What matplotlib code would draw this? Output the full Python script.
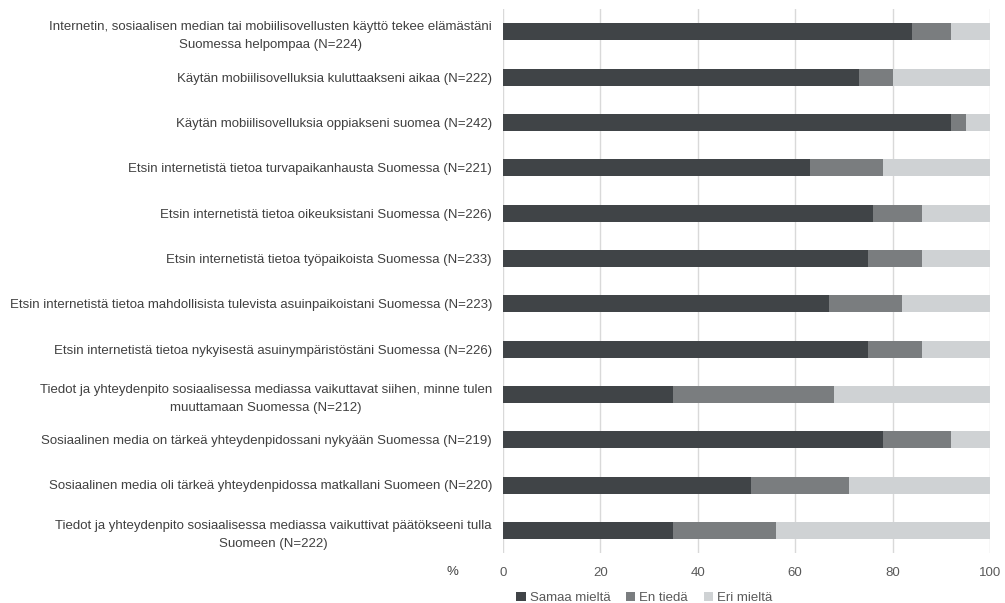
import numpy as np
import matplotlib as mpl
mpl.use('Agg')
import matplotlib.pyplot as plt

mpl.rcParams['font.family'] = ['Liberation Sans', 'DejaVu Sans']
mpl.rcParams['font.size'] = 9.5

statements = [
    'Internetin, sosiaalisen median tai mobiilisovellusten käyttö tekee elämästäni\nSuomessa helpompaa (N=224)',
    'Käytän mobiilisovelluksia kuluttaakseni aikaa (N=222)',
    'Käytän mobiilisovelluksia oppiakseni suomea (N=242)',
    'Etsin internetistä tietoa turvapaikanhausta Suomessa (N=221)',
    'Etsin internetistä tietoa oikeuksistani Suomessa (N=226)',
    'Etsin internetistä tietoa työpaikoista Suomessa (N=233)',
    'Etsin internetistä tietoa mahdollisista tulevista asuinpaikoistani Suomessa (N=223)',
    'Etsin internetistä tietoa nykyisestä asuinympäristöstäni Suomessa (N=226)',
    'Tiedot ja yhteydenpito sosiaalisessa mediassa vaikuttavat siihen, minne tulen\nmuuttamaan Suomessa (N=212)',
    'Sosiaalinen media on tärkeä yhteydenpidossani nykyään Suomessa (N=219)',
    'Sosiaalinen media oli tärkeä yhteydenpidossa matkallani Suomeen (N=220)',
    'Tiedot ja yhteydenpito sosiaalisessa mediassa vaikuttivat päätökseeni tulla\nSuomeen (N=222)',
]
samaa = [84, 73, 92, 63, 76, 75, 67, 75, 35, 78, 51, 35]
en_tieda = [8, 7, 3, 15, 10, 11, 15, 11, 33, 14, 20, 21]
eri = [8, 20, 5, 22, 14, 14, 18, 14, 32, 8, 29, 44]

series = [
    ('Samaa mieltä', samaa, '#404447'),
    ('En tiedä', en_tieda, '#7a7d7f'),
    ('Eri mieltä', eri, '#cfd2d4'),
]

fig = plt.figure(figsize=(10.05, 6.03), dpi=100)
ax = fig.add_axes([503 / 1005, 1 - 553 / 603, 487 / 1005, 544 / 603])

y = np.arange(len(statements))
left = np.zeros(len(statements))
for name, vals, col in series:
    vals = np.array(vals, dtype=float)
    ax.barh(y, vals, left=left, height=0.375, color=col, label=name, zorder=3)
    left += vals

ax.set_ylim(len(statements) - 0.5, -0.5)
ax.set_xlim(0, 100)
ax.set_xticks(np.arange(0, 101, 20))
ax.set_yticks(y)
ax.set_yticklabels(statements, multialignment='center', linespacing=1.65, color='#404040')
ax.tick_params(axis='y', length=0, pad=8)
ax.tick_params(axis='x', length=0, pad=10, colors='#595959')
ax.xaxis.grid(True, color='#d9d9d9', linewidth=1, zorder=0)
for s in ax.spines.values():
    s.set_visible(False)

fig.text(452 / 1005, 1 - 572 / 603, '%', ha='center', va='center', color='#404040')

ax.legend(loc='upper center', bbox_to_anchor=(0.29, -0.054), ncol=3, frameon=False,
          handlelength=0.7, handleheight=0.7, handletextpad=0.3, columnspacing=1.2,
          borderpad=0.2, labelcolor='#595959')

fig.savefig('out.png', dpi=100)
